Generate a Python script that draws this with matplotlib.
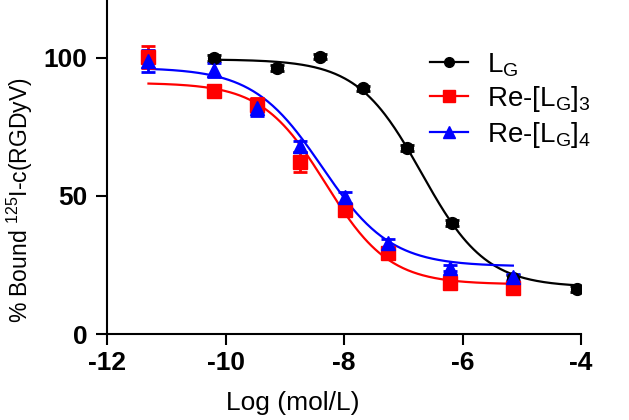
import numpy as np
import matplotlib
matplotlib.use("Agg")
import matplotlib.pyplot as plt

plt.rcParams['font.family'] = ['Liberation Sans', 'DejaVu Sans']
plt.rcParams['mathtext.default'] = 'regular'

# ---- data ----
lg_x = [-10.2, -9.13, -8.4, -7.68, -6.94, -6.18, -5.15, -4.07]
lg_y = [100.0, 96.4, 100.5, 89.0, 67.4, 40.2, 20.3, 16.3]
lg_err = [1.0, 1.0, 1.0, 1.0, 1.0, 1.0, 1.0, 1.0]

re3_x = [-11.3, -10.2, -9.47, -8.74, -7.98, -7.26, -6.21, -5.15]
re3_y = [100.5, 88.0, 83.0, 62.3, 45.0, 29.3, 18.5, 16.5]
re3_err = [4.0, 1.5, 2.5, 3.5, 2.0, 1.5, 1.0, 1.0]

re4_x = [-11.3, -10.2, -9.47, -8.74, -7.98, -7.26, -6.21, -5.15]
re4_y = [99.0, 95.6, 82.0, 68.0, 49.6, 33.0, 24.0, 20.6]
re4_err = [4.0, 2.5, 3.0, 2.0, 2.0, 1.5, 1.0, 1.0]

# fitted 4-parameter logistic parameters: top, bottom, logIC50, hill
lg_fit = [99.5, 17.0, -6.69, 0.80]
re3_fit = [91.0, 18.0, -8.31, 0.81]
re4_fit = [96.5, 24.5, -8.37, 0.75]

labels = ['L$_{G}$', 'Re-[L$_{G}$]$_{3}$', 'Re-[L$_{G}$]$_{4}$']
colors = ['#000000', '#FF0000', '#0000FF']
markers = ['o', 's', '^']
msizes = [8.5, 9.5, 10.0]

xticks = [-12, -10, -8, -6, -4]
yticks = [0, 50, 100]


def four_pl(x, p):
    top, bottom, c, h = p
    return bottom + (top - bottom) / (1.0 + 10 ** ((x - c) * h))


fig = plt.figure(figsize=(6.29, 4.2), dpi=100)
ax = fig.add_axes([107 / 629, 86 / 420, 474 / 629, 334 / 420])

series = [(lg_x, lg_y, lg_err, lg_fit), (re3_x, re3_y, re3_err, re3_fit),
          (re4_x, re4_y, re4_err, re4_fit)]
handles = []
for (xs, ys, es, fit), lab, col, mk, ms in zip(series, labels, colors, markers, msizes):
    xx = np.linspace(min(xs), max(xs), 300)
    ax.plot(xx, four_pl(xx, fit), color=col, lw=1.6, zorder=2)
    ax.errorbar(xs, ys, yerr=es, fmt=mk, color=col, ms=ms,
                elinewidth=2, capsize=5, capthick=2, zorder=3)
    h, = ax.plot([], [], color=col, lw=1.6, marker=mk, ms=ms - 1.5)
    handles.append(h)

ax.set_xlim(-12, -4)
ax.set_ylim(0, 121)
ax.set_xticks(xticks)
ax.set_xticklabels([str(t) for t in xticks])
ax.set_yticks(yticks)
ax.set_yticklabels([str(t) for t in yticks])
for lab in ax.get_xticklabels() + ax.get_yticklabels():
    lab.set_fontweight('bold')
    lab.set_fontsize(19)
ax.tick_params(direction='out', length=8, width=1.5, pad=4)
ax.tick_params(axis='y', pad=6)
ax.spines['top'].set_visible(False)
ax.spines['right'].set_visible(False)
for s in ['left', 'bottom']:
    ax.spines[s].set_linewidth(1.5)

ax.set_xlabel('Log (mol/L)', fontsize=19)
ax.xaxis.set_label_coords(0.392, -0.17)
ax.set_ylabel('% Bound $^{125}$I-c(RGDyV)', fontsize=16.5)
ax.yaxis.set_label_coords(-0.152, 0.40)

ax.legend(handles, labels, loc='upper left', bbox_to_anchor=(419 / 629, 1 - 40 / 420),
          bbox_transform=fig.transFigure, frameon=False, fontsize=20,
          handlelength=1.35, handletextpad=0.7, labelspacing=0.2, borderaxespad=0)

fig.savefig('out.png', dpi=100)
